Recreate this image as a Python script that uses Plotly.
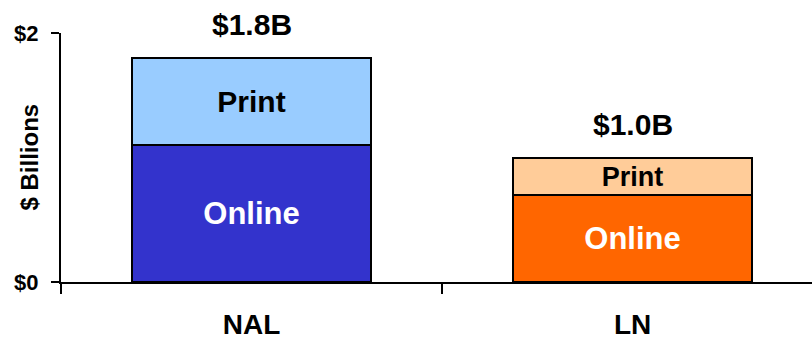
import plotly.graph_objects as go

categories = ["NAL", "LN"]
online = [1.1, 0.7]
print_vals = [0.7, 0.3]
totals_text = ["$1.8B", "$1.0B"]
online_colors = ["#3333CC", "#FF6600"]
print_colors = ["#99CCFF", "#FFCC99"]
ytick_vals = [0, 2]
ytick_text = ["$0", "$2"]

FONT = "Liberation Sans, Arial, sans-serif"

fig = go.Figure()
fig.add_trace(go.Bar(
    x=categories, y=online, marker=dict(color=online_colors, line=dict(color="black", width=2)),
    text=["Online"] * len(categories), textposition="inside", insidetextanchor="middle",
    textfont=dict(family=FONT, size=31, color="white", weight="bold"),
    width=0.625, hoverinfo="skip",
))
fig.add_trace(go.Bar(
    x=categories, y=print_vals, marker=dict(color=print_colors, line=dict(color="black", width=2)),
    text=["Print"] * len(categories), textposition="inside", insidetextanchor="middle",
    textfont=dict(family=FONT, size=[30, 27], color="black", weight="bold"),
    width=0.625, hoverinfo="skip",
))

totals = [a + b for a, b in zip(online, print_vals)]
for c, t, txt in zip(categories, totals, totals_text):
    fig.add_annotation(x=c, y=t, text=txt, showarrow=False, yanchor="middle", yshift=33,
                       font=dict(family=FONT, size=30, color="black", weight="bold"))

fig.add_annotation(xref="paper", yref="paper", x=(29 - 61) / 751, y=0.5, text="$ Billions",
                   textangle=-90, showarrow=False, xanchor="center", yanchor="middle",
                   font=dict(family=FONT, size=24, color="black", weight="bold"))

fig.update_layout(
    barmode="stack", width=812, height=342,
    margin=dict(l=61, r=0, t=33, b=60, autoexpand=False),
    plot_bgcolor="white", paper_bgcolor="white", showlegend=False,
    bargap=0,
    xaxis=dict(type="category", range=[-0.5, 1.471], tickson="boundaries", ticks="outside",
               ticklen=10, tickwidth=2, tickcolor="black", showline=True, linecolor="black",
               linewidth=2, showgrid=False, ticklabelstandoff=16, automargin=False,
               tickfont=dict(family=FONT, size=28, color="black", weight="bold")),
    yaxis=dict(range=[0, 2], tickvals=ytick_vals, ticktext=ytick_text, ticks="outside",
               ticklen=8, tickwidth=2, tickcolor="black", showline=True, linecolor="black",
               linewidth=2, showgrid=False, zeroline=False, ticklabelstandoff=8,
               automargin=False,
               tickfont=dict(family=FONT, size=22, color="black", weight="bold")),
)

fig.write_html("out.html")
